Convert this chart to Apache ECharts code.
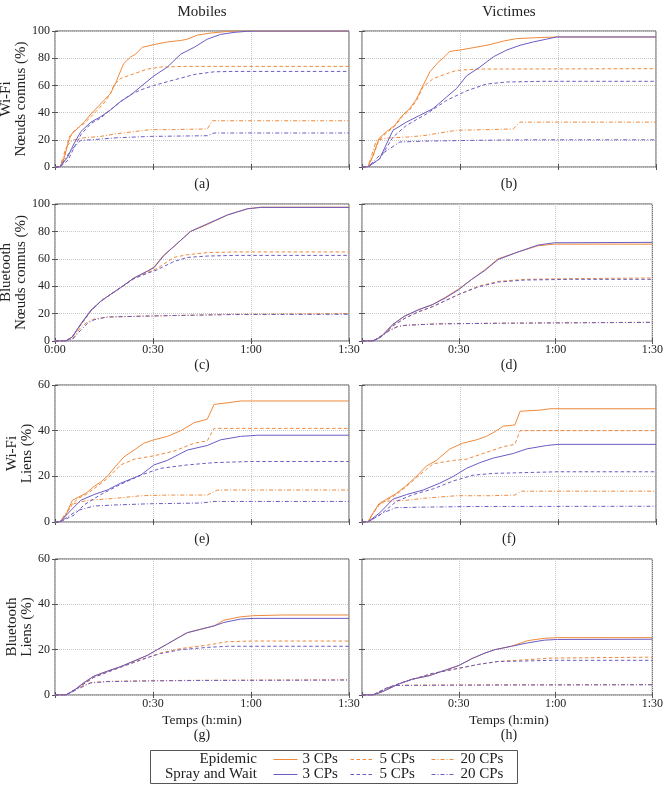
<!DOCTYPE html>
<html>
<head>
<meta charset="utf-8">
<script src="https://cdn.jsdelivr.net/npm/echarts@6/dist/echarts.min.js"></script>
<style>
  html, body { margin: 0; padding: 0; background: #fff; }
  #chart { width: 666px; height: 786px; }
</style>
</head>
<body>
<div id="chart"></div>
<script>
// time in minutes, values in %
// (a) Wi-Fi, noeuds connus, mobiles
const aEpi3 = [[0,0],[1.5,0],[2.8,7],[4.3,20],[5.3,25],[6.8,28],[8.9,33],[11,39],[13,44],[15,49],[17,54],[18.6,62],[21,76],[23.2,81],[24.7,83],[26.7,88],[30.3,90],[34.4,92],[38.5,93],[40.5,94],[43.6,97],[47.7,98.5],[52.8,99.7],[56,100],[90,100]];
const aEpi5 = [[0,0],[1.5,0],[2.8,6],[4.3,22],[6,27],[8.9,32],[11,37],[13,42],[15,47],[17,54],[18,60],[20,65],[24.2,68.6],[28.3,72],[32.3,73.5],[40,74],[90,74]];
const aEpi20 = [[0,0],[1.5,0],[3.5,15],[5.3,19.6],[8.9,21.5],[14,22.5],[19,24.5],[24.2,26],[29.3,27.5],[36.4,27.5],[46.6,28],[48.2,34],[90,34]];
const aSnw3 = [[0,0],[1.5,0],[3.8,7],[5.8,17],[7.9,26],[11,33],[14,37],[17,42],[20,48],[23.2,53],[26.2,59],[30.3,67],[34.4,73.5],[38.5,83],[42.6,88],[46.6,94],[50.7,97.5],[54.8,99],[58.9,99.8],[62,100],[90,100]];
const aSnw5 = [[0,0],[1.5,0],[4,5],[6,15],[8,24],[11,32],[14,36],[17,42],[20,48],[23,53],[26,56.5],[30.3,60],[36.4,64],[42.6,68],[48.7,70],[55,70.3],[90,70.3]];
const aSnw20 = [[0,0],[1.5,0],[4.8,12],[7.9,19.6],[11,20],[19,21.5],[29.3,22.5],[46.6,23],[48.7,25],[90,25]];

// (b) Wi-Fi, noeuds connus, victimes
const bEpi3 = [[0,0],[1.8,0],[3.4,8.6],[5.2,21],[7.5,26],[10,30.6],[12,37],[14.6,43],[16.7,50],[18.7,60],[20.8,70],[23.3,77],[24.8,80],[26.9,85],[30,86],[34,87.7],[39.2,90],[43.3,92.6],[47.3,94.4],[52.5,95],[59.6,95.6],[90,95.6]];
const bEpi5 = [[0,0],[1.8,0],[3.4,8],[5.2,20],[7.5,25],[10,30],[12,36],[14.6,42],[16.7,49],[18.7,59],[21.8,65],[25.9,68.6],[28.9,71],[35,72],[90,72.3]];
const bEpi20 = [[0,0],[1.8,0],[4.4,19.6],[8.5,21.5],[13.6,22],[18.7,23],[23.8,25],[28.9,27],[39.2,27.5],[46.3,28],[48.4,33],[90,33]];
const bSnw3 = [[0,0],[1.8,0],[5.4,6],[7.5,17],[9.5,27],[13.6,33],[17.7,38],[21.8,43],[25.9,51.5],[28.9,57.6],[32,67],[36.1,73.5],[40.2,81],[44.3,86],[48.4,89.5],[52.5,92],[56.5,94],[59.6,95.6],[90,95.6]];
const bSnw5 = [[0,0],[1.8,0],[5.4,6],[9.5,22],[13.6,30.6],[19.7,39],[25.9,49],[32,56],[38.1,61],[44.3,62.5],[55,63],[90,63]];
const bSnw20 = [[0,0],[1.8,0],[5.4,8.6],[11.6,18.4],[18.7,19],[34,19.6],[50,20],[90,20]];

// (c) Bluetooth, noeuds connus, mobiles
const cEpi3 = [[0,0],[3.3,0],[5.3,3],[7.9,12],[11,22],[14,29],[17,34],[20.1,39],[24.2,46],[28.3,51],[30.3,54],[33.4,63],[36.4,69],[41.5,80],[46.6,85],[52.8,92],[58.9,96.5],[63,97.7],[90,97.7]];
const cEpi5 = [[0,0],[3.3,0],[5.3,3],[7.9,12],[11,22],[14,29],[17,34],[20.1,39],[24.2,46],[28.3,50],[31.3,53],[36.4,61],[40.5,63],[46.6,64.5],[55,65],[90,65]];
const cEpi20 = [[0,0],[3.3,0],[5.5,2],[7.9,10],[10,14],[12,16],[16,17.5],[24.2,18],[34.4,18.5],[55,19.5],[90,20]];
const cSnw3 = [[0,0],[3.3,0],[5.3,3],[7.9,12.5],[11,22.5],[14,29],[17,34],[20.1,39],[24.2,46],[28.3,51],[30.3,53.5],[33.4,62.5],[36.4,69],[41.5,80],[46.6,85.5],[52.8,92],[58.9,96.5],[63,97.5],[90,97.5]];
const cSnw5 = [[0,0],[3.3,0],[5.3,3],[7.9,12],[11,22],[14,29],[17,34],[20.1,39],[24.2,45.5],[28.3,49.5],[31.3,52],[36.4,58],[40.5,61],[46.6,62],[55,62.5],[90,62.5]];
const cSnw20 = [[0,0],[3.3,0],[5.5,1.5],[7.9,8],[10,13],[12,15.5],[16,17.5],[24.2,18],[34.4,18.5],[55,19.3],[90,19.5]];

// (d) Bluetooth, noeuds connus, victimes
const dEpi3 = [[0,0],[3.4,0],[5.9,3],[9.5,12],[13.1,18],[17.7,23],[21.8,26.5],[25.9,32],[30,38],[34,45],[38.1,52],[42.2,60],[48.4,65],[54.5,69.5],[59.6,70.7],[90,70.7]];
const dEpi5 = [[0,0],[3.4,0],[6.4,4],[9.5,11],[13.6,17],[17.7,21.5],[21.8,25],[25.9,29.5],[30,34],[36.1,40],[42.2,43.5],[50.4,45],[64.7,45.5],[90,46]];
const dEpi20 = [[0,0],[3.4,0],[6,4],[8.5,8],[11,10.5],[13.6,11.5],[23.8,12.6],[44.3,13],[90,13.7]];
const dSnw3 = [[0,0],[3.4,0],[5.9,3],[9.5,12],[13.1,18],[17.7,23],[21.8,26.5],[25.9,31.5],[30,37.5],[34,45],[38.1,51.5],[42.2,59.5],[48.4,65],[54.5,70],[59.6,71.7],[90,72]];
const dSnw5 = [[0,0],[3.4,0],[6.4,4],[9.5,11],[13.6,17],[17.7,21.5],[21.8,25],[25.9,29.5],[30,34],[36.1,39.5],[42.2,43],[50.4,44.5],[64.7,45],[90,45]];
const dSnw20 = [[0,0],[3.4,0],[6,3.5],[8.5,7.5],[11,10.5],[13.6,11.5],[23.8,12.5],[44.3,13],[90,13.6]];

// (e) Wi-Fi, liens, mobiles
const eEpi3 = [[0,0],[1.5,0],[3.3,3],[5.3,9.5],[7.3,11],[9.4,12.5],[11.9,15.5],[14,17.5],[16,20],[18.6,24.5],[21.1,28.5],[24.2,31.5],[27.2,34.5],[30.3,36],[34.4,37.5],[38.5,40],[42.6,43.5],[46.6,45],[48.7,51.5],[52.8,52.2],[56.8,53],[90,53]];
const eEpi5 = [[0,0],[1.5,0],[3.3,3],[5.3,8],[7.3,10.5],[9.4,12],[11.9,14.5],[16,19],[20.1,25],[24.2,27.5],[30.3,29],[36.4,31],[42.6,34.5],[46.6,35.5],[48.7,41],[90,41]];
const eEpi20 = [[0,0],[1.5,0],[3.8,5],[5.8,8],[9.9,9.5],[18,10.3],[26.2,11.5],[34.4,11.8],[46.6,11.8],[49.7,14],[90,14]];
const eSnw3 = [[0,0],[1.5,0],[4.8,5],[7.9,9.5],[11.9,12],[16,14],[20.1,17],[26.2,20.5],[30.3,25],[34.4,27],[40.5,31.5],[46.6,33.5],[50.7,36],[56.8,37.5],[62,38],[90,38]];
const eSnw5 = [[0,0],[1.5,0],[5.8,3],[8.9,7.5],[14,12],[20.1,16.5],[26.2,20.5],[32.3,23.5],[40.5,25],[48.7,26],[60,26.5],[90,26.5]];
const eSnw20 = [[0,0],[1.5,0],[6.8,5],[11.9,7],[19,7.5],[29.3,8],[44.6,8.3],[48.7,9],[90,9]];

// (f) Wi-Fi, liens, victimes
const fEpi3 = [[0,0],[1.8,0],[3.4,4],[5.2,8],[7.5,10],[10.5,12.5],[13.6,16],[16.7,20],[19.7,24.5],[22.8,27],[26.9,32],[30.8,34.5],[35.1,36],[38.1,37.5],[41.2,40],[43.3,42],[46.8,42.5],[48.4,48.5],[54.5,49],[57.6,49.6],[90,49.6]];
const fEpi5 = [[0,0],[1.8,0],[3.4,4],[5.2,7.5],[7.5,9.5],[10.5,12],[13.6,15.5],[16.7,19.5],[19.7,23],[21.8,25.5],[28,27],[32,27.5],[38.1,30.5],[43.3,33],[46.8,34],[48.4,40],[90,40]];
const fEpi20 = [[0,0],[1.8,0],[4.4,6],[6.4,9],[13.6,9.5],[19.7,10.5],[28.9,11.5],[39.2,11.5],[46.8,11.8],[48.8,13.5],[90,13.5]];
const fSnw3 = [[0,0],[1.8,0],[5.4,4],[9.5,10],[13.6,12],[18.7,14],[23.8,17],[28,20],[32,23.5],[36.1,26],[40.2,28],[46.3,30],[50.4,32],[56.5,33.5],[60,34],[90,34]];
const fSnw5 = [[0,0],[1.8,0],[5.4,3],[10.5,9],[15.6,12],[21.8,14.5],[28,18],[34,20.5],[40.2,21.3],[46.3,21.5],[60,22],[90,22]];
const fSnw20 = [[0,0],[1.8,0],[6.4,4],[10.5,6.3],[18.7,6.5],[34,6.8],[90,6.9]];

// (g) Bluetooth, liens, mobiles
const gEpi3 = [[0,0],[3.3,0],[5.8,2],[8.9,5.5],[11.9,8.3],[16,10.5],[20.1,12.5],[24.2,15],[28.3,17.5],[31.3,20],[34.4,22.5],[37.4,25],[40.5,27.5],[44.6,29],[48.7,30.5],[51.7,33],[56.8,34.5],[60.9,35],[70,35.3],[90,35.3]];
const gEpi5 = [[0,0],[3.3,0],[6.8,3],[11.9,7.8],[20.1,12.3],[28.3,16.5],[32.3,18.5],[38.5,20.5],[46.6,22],[52.8,23.5],[60,23.8],[90,23.8]];
const gEpi20 = [[0,0],[3.3,0],[6.8,3],[10.9,5.5],[16,6],[29.3,6.3],[44.6,6.5],[90,6.7]];
const gSnw3 = [[0,0],[3.3,0],[5.8,2],[8.9,5.5],[11.9,8.3],[16,10.5],[20.1,12.5],[24.2,15],[28.3,17.5],[31.3,20],[34.4,22.5],[37.4,25],[40.5,27.5],[44.6,29],[48.7,30.5],[51.7,32],[56.8,33.5],[60.9,33.8],[90,33.8]];
const gSnw5 = [[0,0],[3.3,0],[6.8,3],[11.9,7.8],[20.1,12.3],[28.3,16.5],[32.3,18.3],[38.5,20],[46.6,21],[52.8,21.5],[90,21.5]];
const gSnw20 = [[0,0],[3.3,0],[6.8,2.5],[10.9,5.3],[16,5.9],[29.3,6.2],[44.6,6.4],[90,6.6]];

// (h) Bluetooth, liens, victimes
const hEpi3 = [[0,0],[3.4,0],[6.4,1.5],[11.6,5],[15.6,7],[20.8,8.5],[25.9,11],[30,13],[34,16],[38.1,18.5],[41.2,20],[46.3,21.5],[51.4,24],[56.5,25],[60.6,25.3],[90,25.3]];
const hEpi5 = [[0,0],[3.4,0],[7.5,3],[13.6,6],[21.8,9.5],[29,11.5],[36.1,13.5],[42.2,14.8],[50.4,15.5],[58.6,16.3],[90,16.7]];
const hEpi20 = [[0,0],[3.4,0],[7.5,3],[10.5,4.3],[23.8,4.4],[44.3,4.5],[90,4.6]];
const hSnw3 = [[0,0],[3.4,0],[6.4,1.5],[11.6,5],[15.6,7],[20.8,8.5],[25.9,11],[30,13],[34,16],[38.1,18.5],[41.2,20],[46.3,21.5],[51.4,23],[56.5,24.2],[60.6,24.5],[90,24.6]];
const hSnw5 = [[0,0],[3.4,0],[7.5,3],[13.6,6],[21.8,9.5],[29,11.5],[36.1,13.5],[42.2,14.8],[50.4,15],[58.6,15.3],[90,15.3]];
const hSnw20 = [[0,0],[3.4,0],[7.5,2.8],[10.5,4.2],[23.8,4.3],[44.3,4.4],[90,4.5]];

const seriesNames = ['Epidemic 3 CPs', 'Epidemic 5 CPs', 'Epidemic 20 CPs',
  'Spray and Wait 3 CPs', 'Spray and Wait 5 CPs', 'Spray and Wait 20 CPs'];
const captions = ['(a)', '(b)', '(c)', '(d)', '(e)', '(f)', '(g)', '(h)'];
const yMaxes = [100, 100, 60, 60];

const ORANGE = '#ef8a3c';
const PURPLE = '#6b5cc3';
const DASH = [3.5, 2.5];
const DASHDOT = [4, 2, 1, 2];
const lineTypes = ['solid', DASH, DASHDOT, 'solid', DASH, DASHDOT];
const lineColors = [ORANGE, ORANGE, ORANGE, PURPLE, PURPLE, PURPLE];

const panelData = [
  [aEpi3, aEpi5, aEpi20, aSnw3, aSnw5, aSnw20],
  [bEpi3, bEpi5, bEpi20, bSnw3, bSnw5, bSnw20],
  [cEpi3, cEpi5, cEpi20, cSnw3, cSnw5, cSnw20],
  [dEpi3, dEpi5, dEpi20, dSnw3, dSnw5, dSnw20],
  [eEpi3, eEpi5, eEpi20, eSnw3, eSnw5, eSnw20],
  [fEpi3, fEpi5, fEpi20, fSnw3, fSnw5, fSnw20],
  [gEpi3, gEpi5, gEpi20, gSnw3, gSnw5, gSnw20],
  [hEpi3, hEpi5, hEpi20, hSnw3, hSnw5, hSnw20],
];

const FONT = 'Liberation Serif';
const gridLefts = [55, 362];
const gridTops = [31, 204, 385, 559];
const gridHeights = [136, 137, 137, 136];
const gridWidth = 294;

const fmtTime = (v) => Math.floor(v / 60) + ':' + String(v % 60).padStart(2, '0');

const grids = [], xAxes = [], yAxes = [], series = [], graphics = [];

panelData.forEach((lines, i) => {
  const row = Math.floor(i / 2);
  const col = i % 2;
  const ymax = yMaxes[row];
  const showX = row === 1 || row === 3;
  const showZero = i === 2;
  grids.push({
    left: gridLefts[col], top: gridTops[row], width: gridWidth, height: gridHeights[row],
    show: true, borderColor: '#555', borderWidth: 1,
  });
  const tick = { show: true, inside: true, length: 3, lineStyle: { color: '#555' } };
  xAxes.push({
    type: 'value', gridIndex: i, min: 0, max: 90, interval: 30, position: 'bottom',
    axisLine: { show: false }, axisTick: tick,
    axisLabel: {
      show: showX, margin: 3, fontFamily: FONT, fontSize: 12, color: '#222',
      formatter: (v) => (v === 0 && !showZero ? '' : fmtTime(v)),
    },
    splitLine: { show: true, lineStyle: { type: 'dotted', color: '#c8c8c8' } },
  });
  xAxes.push({
    type: 'value', gridIndex: i, min: 0, max: 90, interval: 30, position: 'top',
    axisLine: { show: false }, axisTick: tick, axisLabel: { show: false }, splitLine: { show: false },
  });
  yAxes.push({
    type: 'value', gridIndex: i, min: 0, max: ymax, interval: 20, position: 'left',
    axisLine: { show: false }, axisTick: tick,
    axisLabel: { show: col === 0, margin: 5, fontFamily: FONT, fontSize: 12, color: '#222' },
    splitLine: { show: true, lineStyle: { type: 'dotted', color: '#c8c8c8' } },
  });
  yAxes.push({
    type: 'value', gridIndex: i, min: 0, max: ymax, interval: 20, position: 'right',
    axisLine: { show: false }, axisTick: tick, axisLabel: { show: false }, splitLine: { show: false },
  });
  lines.forEach((pts, k) => {
    series.push({
      type: 'line', name: seriesNames[k], xAxisIndex: 2 * i, yAxisIndex: 2 * i,
      data: pts, symbol: 'none', showSymbol: false,
      lineStyle: { color: lineColors[k], width: 1, type: lineTypes[k] },
      itemStyle: { color: lineColors[k] },
    });
  });
  graphics.push({
    type: 'text', x: gridLefts[col] + gridWidth / 2, y: [184, 365, 539, 735][row],
    style: { text: captions[i], font: '14px ' + FONT, fill: '#222', align: 'center', verticalAlign: 'middle' },
  });
});

const colTitles = ['Mobiles', 'Victimes'];
colTitles.forEach((t, c) => {
  graphics.push({
    type: 'text', x: gridLefts[c] + gridWidth / 2, y: 12,
    style: { text: t, font: '15px ' + FONT, fill: '#222', align: 'center', verticalAlign: 'middle' },
  });
  graphics.push({
    type: 'text', x: gridLefts[c] + gridWidth / 2, y: 720,
    style: { text: 'Temps (h:min)', font: '13.5px ' + FONT, fill: '#222', align: 'center', verticalAlign: 'middle' },
  });
});

const yNames = ['Wi-Fi\nNœuds connus (%)', 'Bluetooth\nNœuds connus (%)', 'Wi-Fi\nLiens (%)', 'Bluetooth\nLiens (%)'];
const yNameX = [14, 14, 20, 20];
yNames.forEach((t, r) => {
  graphics.push({
    type: 'text', x: yNameX[r], y: gridTops[r] + gridHeights[r] / 2, rotation: Math.PI / 2,
    style: { text: t, font: '15px ' + FONT, fill: '#222', align: 'center', verticalAlign: 'middle', lineHeight: 15 },
  });
});

// legend box and row labels
graphics.push({
  type: 'rect', shape: { x: 150.5, y: 750.5, width: 367, height: 33 },
  style: { fill: 'none', stroke: '#555', lineWidth: 1 },
});
const legendRows = ['Epidemic', 'Spray and Wait'];
const legendRowY = [759, 774];
legendRows.forEach((t, r) => {
  graphics.push({
    type: 'text', x: 257, y: legendRowY[r],
    style: { text: t, font: '15px ' + FONT, fill: '#222', align: 'right', verticalAlign: 'middle' },
  });
});

// one legend per cell of the legend table
const legendCols = ['3 CPs', '5 CPs', '20 CPs'];
const legendLefts = [273, 350, 431];
const legends = [];
legendRows.forEach((rowName, r) => {
  legendCols.forEach((lbl, c) => {
    legends.push({
      left: legendLefts[c], top: legendRowY[r] - 7,
      data: [rowName + ' ' + lbl],
      itemWidth: 24, itemHeight: 14, itemGap: 0, padding: 0,
      lineStyle: { width: 1 },
      itemStyle: { opacity: 0 },
      formatter: () => lbl,
      textStyle: { fontFamily: FONT, fontSize: 15, color: '#222' },
    });
  });
});

const chart = echarts.init(document.getElementById('chart'));
chart.setOption({
  animation: false,
  backgroundColor: '#fff',
  legend: legends,
  grid: grids,
  xAxis: xAxes,
  yAxis: yAxes,
  series: series,
  graphic: graphics,
});
</script>
</body>
</html>
